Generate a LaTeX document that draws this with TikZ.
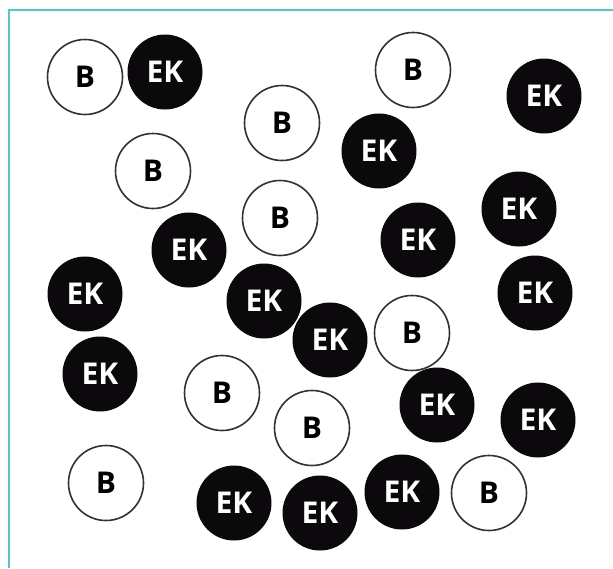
\documentclass[tikz,border=0pt]{standalone}
\usepackage{fontspec}
\setmainfont{Open Sans}
\definecolor{frameteal}{RGB}{80,200,200}
\definecolor{ekfill}{RGB}{12,9,12}
\definecolor{bline}{RGB}{50,50,50}
\begin{document}
\begin{tikzpicture}[x=1pt,y=-1pt,
  bcirc/.style={circle,draw=bline,line width=1.6pt,fill=white,minimum size=75pt,inner sep=0pt,
    font=\fontsize{30}{30}\selectfont\bfseries,text=black},
  ekcirc/.style={circle,fill=ekfill,minimum size=75pt,inner sep=0pt,
    font=\fontsize{30}{30}\selectfont\bfseries,text=white}]
\useasboundingbox (0,0) rectangle (613,568);
\fill[white] (0,0) rectangle (613,568);
\draw[frameteal,line width=2.2pt] (9,568) -- (9,10) -- (613,10);
\node[bcirc]  (b1)  at (85,77)   {B};
\node[ekcirc] (e2)  at (165,72)  {EK};
\node[bcirc]  (b3)  at (413,70)  {B};
\node[ekcirc] (e4)  at (544,96)  {EK};
\node[bcirc]  (b5)  at (282,123) {B};
\node[ekcirc] (e6)  at (379,151) {EK};
\node[bcirc]  (b7)  at (153,171) {B};
\node[ekcirc] (e8)  at (519,209) {EK};
\node[bcirc]  (b9)  at (280,218) {B};
\node[ekcirc] (e10) at (189,250) {EK};
\node[ekcirc] (e11) at (418,240) {EK};
\node[ekcirc] (e12) at (85,294)  {EK};
\node[ekcirc] (e13) at (264,301) {EK};
\node[ekcirc] (e14) at (535,293) {EK};
\node[ekcirc] (e15) at (330,340) {EK};
\node[bcirc]  (b16) at (412,333) {B};
\node[ekcirc] (e17) at (100,374) {EK};
\node[bcirc]  (b18) at (222,393) {B};
\node[ekcirc] (e19) at (437,405) {EK};
\node[bcirc]  (b20) at (312,428) {B};
\node[ekcirc] (e21) at (538,420) {EK};
\node[bcirc]  (b22) at (106,483) {B};
\node[ekcirc] (e23) at (234,503) {EK};
\node[ekcirc] (e24) at (320,513) {EK};
\node[ekcirc] (e25) at (402,492) {EK};
\node[bcirc]  (b26) at (489,493) {B};
\end{tikzpicture}
\end{document}
